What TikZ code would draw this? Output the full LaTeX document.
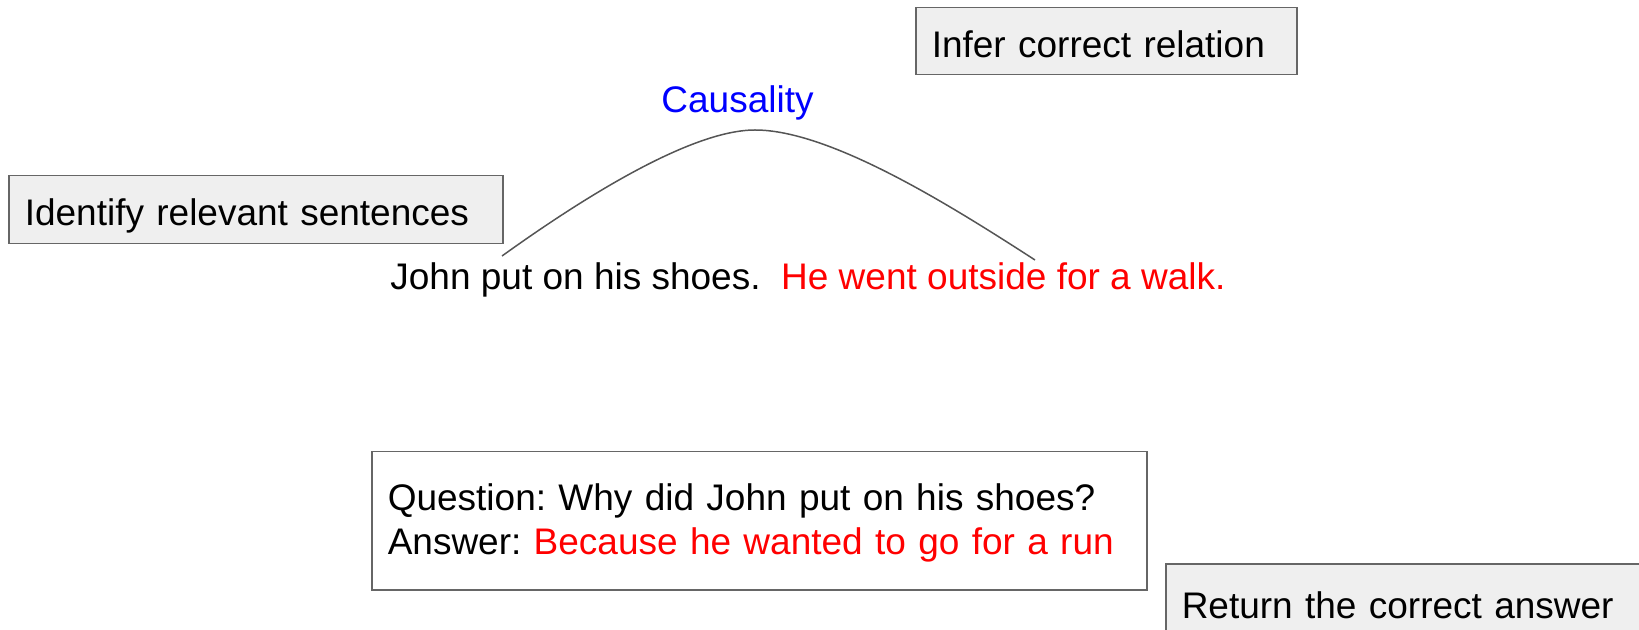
\documentclass[tikz,border=0pt]{standalone}
\usepackage{fontspec}
\setmainfont{Liberation Sans}
\frenchspacing
\definecolor{boxgrey}{HTML}{EFEFEF}
\definecolor{linegrey}{HTML}{666666}
\definecolor{curvegrey}{HTML}{555555}
\begin{document}
\begin{tikzpicture}[
    x=0.5pt, y=-0.5pt,
    every node/.style={font=\fontsize{18.5}{22}\selectfont},
    step_box/.style={rectangle, draw=linegrey, fill=boxgrey, line width=0.75pt, anchor=north west, inner xsep=8pt, inner ysep=2pt, align=left, text height=16pt, text depth=0pt},
    qa_box/.style={step_box, fill=white, text height=12pt, text depth=22pt},
    plain_text/.style={anchor=base west, inner sep=0pt},
    link/.style={curvegrey, line width=0.75pt}
]
    \useasboundingbox (0,0) rectangle (1639,630);

    % Nodes
    \node[step_box, text width=231pt, minimum height=34pt] (identify) at (8,175) {Identify relevant sentences};
    \node[step_box, text width=174.5pt, minimum height=33.5pt] (infer) at (915,7) {Infer correct relation};
    \node[step_box, text width=226pt, minimum height=39pt] (answer) at (1165,563) {Return the correct answer};
    \node[plain_text] (story) at (390,290) {John put on his shoes.\ \ \textcolor{red}{He went outside for a walk.}};
    \node[plain_text, text=blue] (relation) at (661,113) {Causality};
    \node[qa_box, text width=371.5pt, minimum height=69pt] (question) at (371,451) {Question: Why did John put on his shoes?\\Answer: \textcolor{red}{Because he wanted to go for a run}};

    % Link between the sentences
    \coordinate (link_start) at (502,256);
    \coordinate (link_top) at (755,130);
    \coordinate (link_end) at (1035,260);
    \draw[link] (link_start) .. controls (580,200) and (690,130) .. (link_top)
        .. controls (830,130) and (950,205) .. (link_end);
\end{tikzpicture}
\end{document}
